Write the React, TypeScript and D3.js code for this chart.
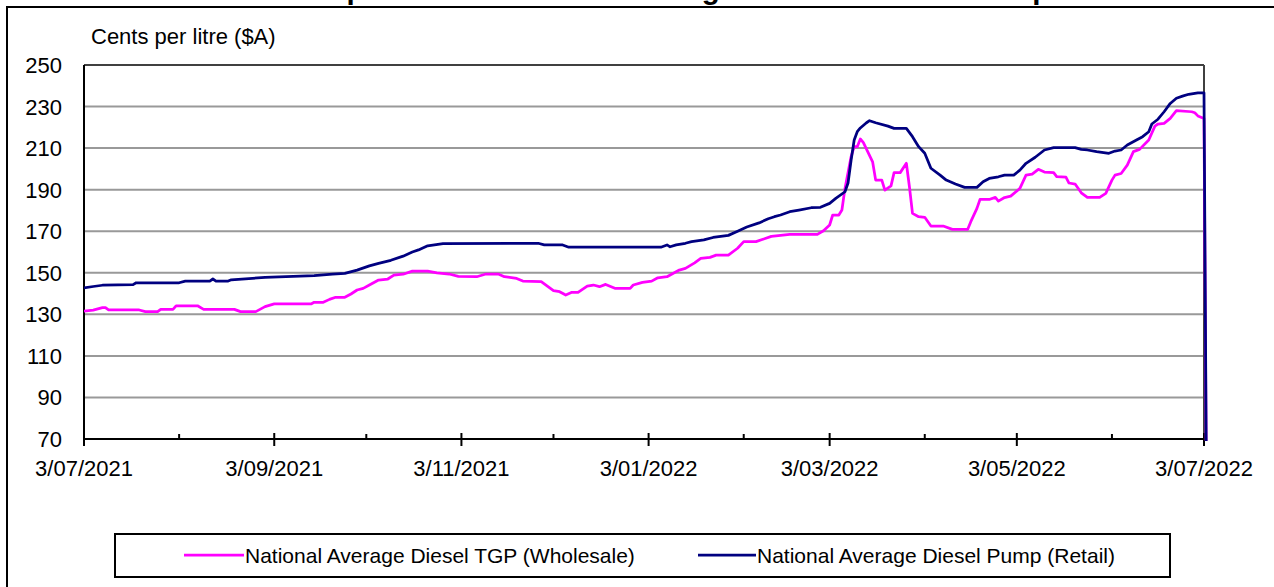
import React from "react";
import * as d3 from "d3";

const title = "Comparison of National Average Diesel TGP and Pump Price";
const yAxisTitle = "Cents per litre ($A)";
const yTicks = [70, 90, 110, 130, 150, 170, 190, 210, 230, 250];
const tickDates = [
  "2021-07-03", "2021-08-03", "2021-09-03", "2021-10-03", "2021-11-03", "2021-12-03",
  "2022-01-03", "2022-02-03", "2022-03-03", "2022-04-03", "2022-05-03", "2022-06-03", "2022-07-03",
];
const seriesNames = ["National Average Diesel TGP (Wholesale)", "National Average Diesel Pump (Retail)"];

const tgpDates = [
  "2021-07-03","2021-07-06","2021-07-09","2021-07-10","2021-07-11","2021-07-21","2021-07-23","2021-07-27",
  "2021-07-28","2021-08-01","2021-08-02","2021-08-09","2021-08-11","2021-08-21","2021-08-23","2021-08-28",
  "2021-08-31","2021-09-03","2021-09-15","2021-09-16","2021-09-19","2021-09-21","2021-09-23","2021-09-26",
  "2021-09-28","2021-09-30","2021-10-02","2021-10-04","2021-10-07","2021-10-10","2021-10-12","2021-10-15",
  "2021-10-18","2021-10-23","2021-10-26","2021-10-30","2021-11-02","2021-11-08","2021-11-11","2021-11-15",
  "2021-11-17","2021-11-21","2021-11-23","2021-11-29","2021-12-03","2021-12-05","2021-12-07","2021-12-09",
  "2021-12-11","2021-12-14","2021-12-16","2021-12-18","2021-12-20","2021-12-23","2021-12-28","2021-12-29",
  "2022-01-01","2022-01-04","2022-01-06","2022-01-09","2022-01-13","2022-01-15","2022-01-18","2022-01-20",
  "2022-01-23","2022-01-25","2022-01-29","2022-02-01","2022-02-03","2022-02-07","2022-02-10","2022-02-12",
  "2022-02-18","2022-02-21","2022-02-27","2022-03-01","2022-03-03","2022-03-04","2022-03-06","2022-03-07",
  "2022-03-08","2022-03-10","2022-03-11","2022-03-12","2022-03-13","2022-03-14","2022-03-17","2022-03-18",
  "2022-03-20","2022-03-21","2022-03-23","2022-03-24","2022-03-26","2022-03-28","2022-03-29","2022-03-30",
  "2022-04-01","2022-04-03","2022-04-05","2022-04-09","2022-04-12","2022-04-17","2022-04-18","2022-04-20",
  "2022-04-21","2022-04-24","2022-04-26","2022-04-27","2022-04-29","2022-05-01","2022-05-04","2022-05-06",
  "2022-05-08","2022-05-10","2022-05-12","2022-05-15","2022-05-16","2022-05-19","2022-05-20","2022-05-22",
  "2022-05-24","2022-05-26","2022-05-30","2022-06-01","2022-06-03","2022-06-04","2022-06-06","2022-06-08",
  "2022-06-10","2022-06-12","2022-06-15","2022-06-17","2022-06-18","2022-06-20","2022-06-22","2022-06-24",
  "2022-06-29","2022-06-30","2022-07-01","2022-07-03","2022-07-04",
];
const tgpValues = [
  131.6,132.0,133.2,133.2,132.1,132.1,131.3,131.3,
  132.4,132.4,134.1,134.1,132.4,132.4,131.3,131.3,
  133.7,135.0,135.0,135.8,135.8,137.2,138.2,138.2,
  139.8,141.7,142.5,144.1,146.5,147.0,148.9,149.3,
  150.8,150.8,150.0,149.4,148.3,148.1,149.4,149.4,
  148.1,147.3,146.0,145.7,141.4,140.9,139.3,140.6,
  140.6,143.6,144.1,143.3,144.4,142.5,142.5,144.1,
  145.4,146.0,147.6,148.1,151.3,152.1,154.8,156.9,
  157.4,158.5,158.5,161.8,165.0,165.0,166.5,167.5,
  168.5,168.5,168.5,170.2,173.0,177.8,177.8,180.2,
  190.6,205.9,210.7,210.7,214.4,212.6,203.4,194.6,
  194.6,189.8,191.8,198.2,198.2,202.7,191.4,178.6,
  177.0,176.7,172.5,172.5,170.9,170.9,174.6,181.0,
  185.3,185.3,186.3,184.5,186.2,186.9,190.6,197.0,
  197.5,199.8,198.5,198.2,196.3,196.0,193.2,192.7,
  188.5,186.3,186.3,188.2,194.6,197.0,197.8,201.8,
  208.3,209.4,213.9,220.6,221.6,221.9,224.3,228.0,
  227.5,227.0,225.5,224.3,0,
];

const pumpDates = [
  "2021-07-03","2021-07-06","2021-07-09","2021-07-19","2021-07-20","2021-08-03","2021-08-05","2021-08-13",
  "2021-08-14","2021-08-15","2021-08-19","2021-08-20","2021-08-31","2021-09-16","2021-09-22","2021-09-26",
  "2021-09-30","2021-10-04","2021-10-07","2021-10-11","2021-10-15","2021-10-18","2021-10-20","2021-10-23",
  "2021-10-28","2021-11-28","2021-11-30","2021-12-06","2021-12-08","2022-01-07","2022-01-09","2022-01-10",
  "2022-01-12","2022-01-15","2022-01-17","2022-01-21","2022-01-24","2022-01-29","2022-02-01","2022-02-04",
  "2022-02-08","2022-02-11","2022-02-13","2022-02-15","2022-02-18","2022-02-21","2022-02-25","2022-02-28",
  "2022-03-03","2022-03-05","2022-03-08","2022-03-09","2022-03-10","2022-03-11","2022-03-12","2022-03-13",
  "2022-03-15","2022-03-16","2022-03-18","2022-03-22","2022-03-24","2022-03-28","2022-03-30","2022-04-01",
  "2022-04-03","2022-04-05","2022-04-08","2022-04-10","2022-04-13","2022-04-16","2022-04-20","2022-04-22",
  "2022-04-24","2022-04-27","2022-04-29","2022-05-02","2022-05-04","2022-05-06","2022-05-09","2022-05-12",
  "2022-05-15","2022-05-22","2022-05-24","2022-05-26","2022-05-29","2022-06-02","2022-06-04","2022-06-06",
  "2022-06-08","2022-06-11","2022-06-13","2022-06-15","2022-06-16","2022-06-18","2022-06-20","2022-06-22",
  "2022-06-24","2022-06-26","2022-06-28","2022-07-01","2022-07-03","2022-07-04",
];
const pumpValues = [
  142.7,143.4,144.0,144.3,145.2,145.2,146.0,146.0,
  147.0,146.0,146.0,146.6,147.8,148.6,149.4,149.7,
  151.3,153.3,154.5,156.0,158.0,160.0,161.0,163.0,
  164.0,164.2,163.4,163.4,162.3,162.3,163.4,162.5,
  163.4,164.2,165.0,165.8,167.0,168.0,170.0,172.0,
  174.0,176.0,177.0,177.8,179.4,180.2,181.3,181.5,
  183.4,185.8,189.0,193.2,204.3,213.9,217.9,219.7,
  222.2,223.2,222.2,220.6,219.5,219.5,215.5,210.7,
  207.5,200.3,197.0,194.6,192.7,191.1,191.1,193.8,
  195.4,196.2,197.0,197.0,199.4,202.7,205.6,209.1,
  210.2,210.2,209.4,209.1,208.3,207.5,208.6,209.1,
  211.5,213.9,215.5,217.9,221.6,223.9,227.5,231.5,
  234.0,235.0,235.9,236.6,236.6,0,
];

const colors = ["#FF00FF", "#000080"];

export default function App() {
  const W = 1274, H = 587;
  const left = 84, right = 1204, top = 65, bottom = 439;
  const parse = d3.utcParse("%Y-%m-%d");
  const fmt = d3.utcFormat("%-d/%m/%Y");
  const x = d3.scaleUtc().domain([parse(tickDates[0])!, parse(tickDates[tickDates.length - 1])!]).range([left, right]);
  const y = d3.scaleLinear().domain([70, 250]).range([bottom, top]);
  const line = d3.line<[Date, number]>().x((d) => x(d[0])).y((d) => y(d[1]));
  const tgp = tgpDates.map((d, i) => [parse(d)!, tgpValues[i]] as [Date, number]);
  const pump = pumpDates.map((d, i) => [parse(d)!, pumpValues[i]] as [Date, number]);
  const font = "'Liberation Sans', Arial, sans-serif";
  const fs = 22;

  return (
    <svg width={W} height={H} style={{ position: "absolute", left: 0, top: 0, background: "#fff" }} fontFamily={font}>
      <defs>
        <clipPath id="plotclip">
          <rect x={left} y={top} width={right - left + 5} height={bottom - top + 2} />
        </clipPath>
      </defs>
      <rect x={0} y={0} width={W} height={H} fill="#fff" />
      <text x={281} y={-1} fontSize={29.5} fontWeight="bold" fill="#000">{title}</text>
      <rect x={7} y={7} width={W + 10} height={H + 10} fill="none" stroke="#000" strokeWidth={2} />
      {yTicks.slice(1, -1).map((t) => (
        <line key={t} x1={left} x2={right} y1={y(t)} y2={y(t)} stroke="#999" strokeWidth={2} />
      ))}
      <line x1={left} x2={right} y1={top} y2={top} stroke="#404040" strokeWidth={2} />
      <line x1={right} x2={right} y1={top} y2={bottom} stroke="#404040" strokeWidth={2} />
      <text x={91} y={44} fontSize={fs} fill="#000">{yAxisTitle}</text>
      {yTicks.map((t) => (
        <text key={t} x={62} y={y(t) + 8} fontSize={fs} textAnchor="end" fill="#000">{t}</text>
      ))}
      {tickDates.map((d, i) => {
        const xx = x(parse(d)!);
        const major = i % 2 === 0;
        return (
          <g key={d}>
            <line x1={xx} x2={xx} y1={major ? bottom - 6 : bottom - 5} y2={major ? bottom + 7 : bottom} stroke="#000" strokeWidth={2} />
            {major && (
              <text x={xx} y={476} fontSize={fs} textAnchor="middle" fill="#000">{fmt(parse(d)!)}</text>
            )}
          </g>
        );
      })}
      <line x1={left} x2={left} y1={top} y2={bottom + 7} stroke="#000" strokeWidth={2} />
      <line x1={left} x2={right} y1={bottom} y2={bottom} stroke="#000" strokeWidth={2} />
      <g clipPath="url(#plotclip)">
        <path d={line(tgp) || ""} fill="none" stroke={colors[0]} strokeWidth={2.75} strokeLinejoin="round" />
        <path d={line(pump) || ""} fill="none" stroke={colors[1]} strokeWidth={2.75} strokeLinejoin="round" />
      </g>
      <rect x={115} y={534} width={1055} height={43} fill="#fff" stroke="#000" strokeWidth={2} />
      <line x1={184} x2={244} y1={555} y2={555} stroke={colors[0]} strokeWidth={2.75} />
      <text x={245} y={563} fontSize={21} fill="#000">{seriesNames[0]}</text>
      <line x1={698} x2={756} y1={555} y2={555} stroke={colors[1]} strokeWidth={2.75} />
      <text x={757} y={563} fontSize={21} fill="#000">{seriesNames[1]}</text>
    </svg>
  );
}
